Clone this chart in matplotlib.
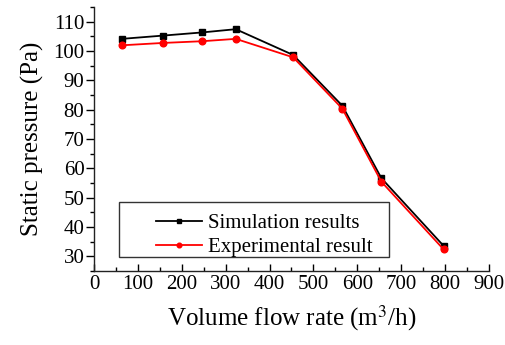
import matplotlib
matplotlib.use("Agg")
import matplotlib.pyplot as plt
from matplotlib.ticker import MultipleLocator
from matplotlib.patches import Rectangle

flow = [63, 156, 247, 323, 454, 566, 655, 797]
sim = [104.1, 105.2, 106.3, 107.4, 98.6, 81.3, 56.6, 33.5]
exp_flow = [63, 156, 247, 323, 454, 566, 655, 797]
exp = [101.9, 102.7, 103.3, 104.1, 97.8, 80.3, 55.4, 32.3]
sim_label = "Simulation results"
exp_label = "Experimental result"

plt.rcParams['font.family'] = ['Liberation Serif', 'DejaVu Serif']
plt.rcParams['mathtext.fontset'] = 'stix'

fig = plt.figure(figsize=(5.06, 3.45), dpi=100)
ax = fig.add_axes([0.186, 0.215, 0.78, 0.765])

ax.plot(flow, sim, color='black', lw=1.3, marker='s', ms=4.2, label=sim_label)
ax.plot(exp_flow, exp, color='red', lw=1.3, marker='o', ms=4.8, label=exp_label)

ax.set_xlim(0, 900)
ax.set_ylim(25, 115)
ax.xaxis.set_major_locator(MultipleLocator(100))
ax.xaxis.set_minor_locator(MultipleLocator(50))
ax.yaxis.set_major_locator(MultipleLocator(10))
ax.yaxis.set_minor_locator(MultipleLocator(5))
ax.set_yticks(range(30, 111, 10))

for s in ['top', 'right']:
    ax.spines[s].set_visible(False)
for s in ['left', 'bottom']:
    ax.spines[s].set_linewidth(1.0)
    ax.spines[s].set_color('#222222')

ax.tick_params(axis='y', which='major', direction='out', length=6, width=1.0, labelsize=15, pad=1)
ax.tick_params(axis='y', which='minor', direction='out', length=3, width=1.0)
ax.tick_params(axis='x', which='major', direction='in', length=5, width=1.0, labelsize=15, pad=3)
ax.tick_params(axis='x', which='minor', direction='in', length=3, width=1.0)

ax.set_xlabel("Volume flow rate (m$^3$/h)", fontsize=18, labelpad=7)
ax.set_ylabel("Static pressure (Pa)", fontsize=18, labelpad=7)

ax.add_patch(Rectangle((0.063, 0.053), 0.684, 0.209, transform=ax.transAxes,
                       fill=False, edgecolor='#333333', lw=1.0, zorder=5))
leg = ax.legend(loc='lower left', bbox_to_anchor=(0.115, -0.01), frameon=False,
                fontsize=15, handlelength=2.2, handletextpad=0.3, labelspacing=0.2,
                markerscale=0.7, borderpad=0.3)

fig.savefig("out.png", dpi=100)
